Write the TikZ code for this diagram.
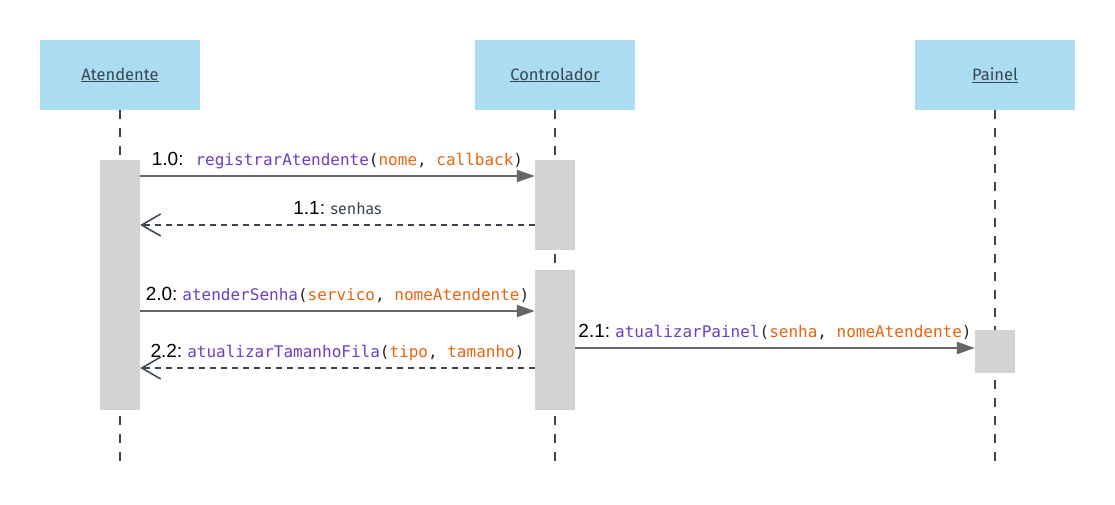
\documentclass[tikz,border=0pt]{standalone}
\usepackage{fontspec}
\setmainfont{Liberation Sans}
\newfontfamily\headfont{Fira Sans}
\setmonofont{DejaVu Sans Mono}
\usetikzlibrary{arrows.meta}
\definecolor{headblue}{HTML}{ABDDF2}
\definecolor{actgray}{HTML}{D3D3D3}
\definecolor{msggray}{HTML}{666666}
\definecolor{lifegray}{HTML}{3A4550}
\definecolor{fnpurple}{HTML}{6B3FC4}
\definecolor{argorange}{HTML}{E8650F}
\newcommand{\fnname}[1]{\textcolor{fnpurple}{#1}}
\newcommand{\argname}[1]{\textcolor{argorange}{#1}}
\newcommand{\msgnum}[1]{{\rmfamily\color{black}\fontsize{19}{21}\selectfont #1}}
\tikzset{
  actor/.style={fill=headblue,minimum width=160pt,minimum height=70pt,inner sep=0pt,
    font=\headfont\fontsize{16.5}{19}\selectfont,text=lifegray},
  lifeline/.style={lifegray,line width=2pt,dash pattern=on 9pt off 9pt},
  activation/.style={fill=actgray,draw=none,inner sep=0pt},
  callmsg/.style={msggray,line width=2pt,-{Triangle[length=18pt,width=12pt]}},
  returnmsg/.style={lifegray,line width=2pt,dash pattern=on 6pt off 5pt,
    -{Straight Barb[length=19pt,width=22pt,line width=1.5pt]}},
  msglabel/.style={anchor=base,inner sep=0pt,text=black!85,font=\ttfamily\fontsize{16}{18}\selectfont}
}
\begin{document}
\begin{tikzpicture}[x=1pt,y=-1pt]
  \useasboundingbox[fill=white] (0,0) rectangle (1115,505);

  % Actors
  \node[actor] (atendente) at (120,75) {\underline{Atendente}};
  \node[actor] (controlador) at (555,75) {\underline{Controlador}};
  \node[actor] (painel) at (995,75) {\underline{Painel}};

  % Lifelines
  \coordinate (endA) at (120,465);
  \coordinate (endC) at (555,465);
  \coordinate (endP) at (995,465);
  \draw[lifeline] (atendente.south) -- (endA);
  \draw[lifeline] (controlador.south) -- (endC);
  \draw[lifeline] (painel.south) -- (endP);

  % Activation bars
  \node[activation,minimum width=40pt,minimum height=250pt] (actA) at (120,285) {};
  \node[activation,minimum width=40pt,minimum height=90pt] (actC1) at (555,205) {};
  \node[activation,minimum width=40pt,minimum height=140pt] (actC2) at (555,340) {};
  \node[activation,minimum width=40pt,minimum height=43pt] (actP) at (995,351.5) {};

  % Message rows
  \coordinate (row10) at (0,176);
  \coordinate (row11) at (0,225);
  \coordinate (row20) at (0,311);
  \coordinate (row21) at (0,348);
  \coordinate (row22) at (0,368);

  % 1.0 and 1.1
  \draw[callmsg] (actA.east |- row10) -- (actC1.west |- row10)
    node[msglabel,midway,yshift=11pt] (lbl10)
    {\msgnum{1.0:}\hspace{12pt}\fnname{registrarAtendente}(\argname{nome}, \argname{callback})};
  \draw[returnmsg] (actC1.west |- row11) -- (actA.east |- row11)
    node[msglabel,midway,yshift=11pt,font=\headfont\fontsize{16}{18}\selectfont,text=lifegray] (lbl11)
    {\msgnum{1.1:} senhas};

  % 2.0, 2.1 and 2.2
  \draw[callmsg] (actA.east |- row20) -- (actC2.west |- row20)
    node[msglabel,midway,yshift=11pt] (lbl20)
    {\msgnum{2.0:}\hspace{5pt}\fnname{atenderSenha}(\argname{servico}, \argname{nomeAtendente})};
  \draw[callmsg] (actC2.east |- row21) -- (actP.west |- row21)
    node[msglabel,midway,yshift=11pt] (lbl21)
    {\msgnum{2.1:}\hspace{5pt}\fnname{atualizarPainel}(\argname{senha}, \argname{nomeAtendente})};
  \draw[returnmsg] (actC2.west |- row22) -- (actA.east |- row22)
    node[msglabel,midway,yshift=11pt] (lbl22)
    {\msgnum{2.2:}\hspace{5pt}\fnname{atualizarTamanhoFila}(\argname{tipo}, \argname{tamanho})};
\end{tikzpicture}
\end{document}
